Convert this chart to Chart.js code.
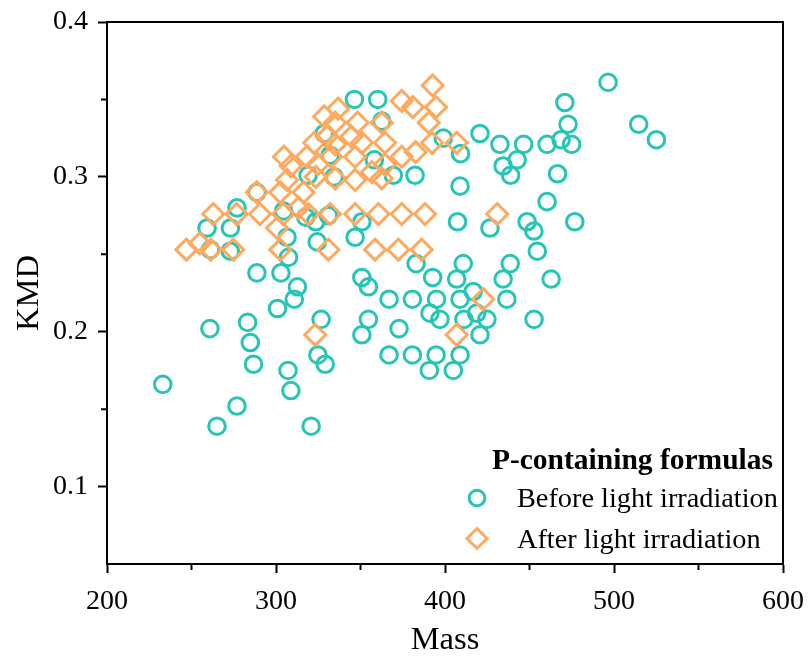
<!DOCTYPE html>
<html>
<head>
<meta charset="utf-8">
<script src="https://cdn.jsdelivr.net/npm/chart.js@4/dist/chart.umd.min.js"></script>
<style>
  html, body { margin: 0; padding: 0; background: #fff; }
  #wrap { width: 811px; height: 660px; }
</style>
</head>
<body>
<div id="wrap"><canvas id="chart_kmd" width="811" height="660"></canvas></div>
<script>
window.chartColors = {
    teal: 'rgb(38, 197, 180)',
    orange: 'rgb(255, 169, 94)',
    black: '#000'
};

const FONT = '"Liberation Serif", "Times New Roman", serif';

// P-containing formulas, before light irradiation
const beforeMass = [233.0, 265.1, 276.9, 260.9, 283.2, 284.8, 286.7, 308.8, 307.1, 310.8,
    312.7, 300.9, 288.7, 302.9, 320.8, 324.8, 329.1, 326.7, 259.2, 273.0,
    261.2, 273.0, 306.5, 307.4, 324.4, 288.7, 276.9, 304.5, 317.6, 331.0,
    350.8, 346.8, 323.5, 350.8, 354.7, 366.9, 380.7, 395.0, 408.9, 354.7,
    350.8, 372.8, 366.9, 380.7, 394.7, 391.1, 397.0, 390.7, 382.9, 392.7,
    406.9, 410.8, 407.4, 346.4, 360.2, 362.6, 358.2, 369.4, 382.3, 399.0,
    409.2, 408.9, 328.5, 332.0, 334.4, 319.0,
    496.5, 470.9, 514.6, 525.1, 472.8, 468.7, 474.9, 460.4, 420.7, 432.5,
    446.5, 434.4, 442.7, 438.8, 466.6, 460.4, 426.6, 448.6, 452.6, 476.8,
    454.6, 438.6, 434.4, 462.8, 416.7, 436.6, 418.7, 424.8, 452.7, 411.2,
    420.7, 408.9, 404.9];
const beforeKmd = [0.166, 0.139, 0.152, 0.202, 0.206, 0.193, 0.179, 0.162, 0.175, 0.221,
    0.229, 0.215, 0.238, 0.238, 0.139, 0.185, 0.179, 0.208, 0.267, 0.267,
    0.253, 0.252, 0.261, 0.248, 0.258, 0.290, 0.280, 0.278, 0.274, 0.275,
    0.271, 0.261, 0.271, 0.235, 0.229, 0.221, 0.221, 0.221, 0.221, 0.208,
    0.198, 0.202, 0.185, 0.185, 0.185, 0.212, 0.208, 0.175, 0.244, 0.235,
    0.234, 0.244, 0.271, 0.350, 0.350, 0.336, 0.311, 0.301, 0.301, 0.325,
    0.315, 0.294, 0.328, 0.314, 0.300, 0.301,
    0.361, 0.348, 0.334, 0.324, 0.334, 0.324, 0.321, 0.321, 0.328, 0.321,
    0.321, 0.307, 0.311, 0.301, 0.302, 0.284, 0.267, 0.271, 0.265, 0.271,
    0.252, 0.244, 0.234, 0.234, 0.226, 0.221, 0.212, 0.208, 0.208, 0.208,
    0.198, 0.185, 0.175];

// after light irradiation
const afterMass = [247.0, 254.9, 261.4, 274.7, 262.9, 276.7, 290.5, 304.3, 300.6, 302.5,
    288.7, 302.5, 316.3, 313.3, 319.2, 332.0, 346.8, 360.6, 374.4, 388.2,
    331.0, 358.6, 372.4, 386.2, 304.7, 308.7, 306.5, 318.2, 322.6, 324.7,
    323.5, 335.0, 346.8, 330.1, 335.0, 332.6, 328.5, 336.7, 335.0, 344.6,
    350.8, 348.3, 346.8, 356.7, 362.6, 364.5, 364.5, 362.6, 374.4, 381.0,
    392.7, 394.7, 390.4, 382.6, 374.4, 392.4, 406.9, 430.9, 422.6, 406.9,
    323.2];
const afterKmd = [0.253, 0.257, 0.253, 0.253, 0.276, 0.276, 0.276, 0.276, 0.267, 0.253,
    0.290, 0.290, 0.290, 0.280, 0.276, 0.276, 0.276, 0.276, 0.276, 0.276,
    0.253, 0.253, 0.253, 0.253, 0.313, 0.307, 0.298, 0.313, 0.322, 0.308,
    0.300, 0.299, 0.298, 0.326, 0.321, 0.313, 0.339, 0.344, 0.335, 0.326,
    0.322, 0.335, 0.313, 0.303, 0.299, 0.308, 0.322, 0.335, 0.349, 0.345,
    0.359, 0.345, 0.335, 0.316, 0.313, 0.322, 0.322, 0.276, 0.221, 0.198,
    0.198];

const xTicks = [200, 300, 400, 500, 600];
const xMinorTicks = [250, 350, 450, 550];
const yTicks = [0.1, 0.2, 0.3, 0.4];
const yMinorTicks = [0.15, 0.25, 0.35];

const legendTitle = 'P-containing formulas';
const legendLabels = ['Before light irradiation', 'After light irradiation'];

function toPoints(xs, ys) {
    return xs.map(function (x, i) {
        return {x: x, y: ys[i]};
    });
}

// frame on top/right, minor ticks and the legend box inside the plot
const extrasPlugin = {
    id: 'extras',
    afterDraw: function (chart) {
        const ctx = chart.ctx;
        const a = chart.chartArea;
        const xs = chart.scales.x, ys = chart.scales.y;
        ctx.save();
        ctx.strokeStyle = '#000';
        ctx.lineWidth = 2;
        ctx.beginPath();
        ctx.moveTo(a.left, a.top);
        ctx.lineTo(a.right, a.top);
        ctx.lineTo(a.right, a.bottom);
        ctx.stroke();

        ctx.beginPath();
        xMinorTicks.forEach(function (v) {
            const px = xs.getPixelForValue(v);
            ctx.moveTo(px, a.bottom);
            ctx.lineTo(px, a.bottom + 6);
        });
        yMinorTicks.forEach(function (v) {
            const py = ys.getPixelForValue(v);
            ctx.moveTo(a.left, py);
            ctx.lineTo(a.left - 6, py);
        });
        ctx.stroke();

        // legend
        ctx.fillStyle = '#000';
        ctx.textBaseline = 'alphabetic';
        ctx.textAlign = 'right';
        ctx.font = 'bold 29.5px ' + FONT;
        ctx.fillText(legendTitle, 773, 469);
        ctx.textAlign = 'left';
        ctx.font = '28.3px ' + FONT;
        ctx.fillText(legendLabels[0], 517, 507);
        ctx.fillText(legendLabels[1], 517, 548);

        ctx.lineWidth = 3;
        ctx.strokeStyle = window.chartColors.teal;
        ctx.beginPath();
        ctx.arc(477, 498, 7.8, 0, Math.PI * 2);
        ctx.stroke();
        ctx.strokeStyle = window.chartColors.orange;
        ctx.beginPath();
        ctx.moveTo(477, 528.5);
        ctx.lineTo(487, 538.5);
        ctx.lineTo(477, 548.5);
        ctx.lineTo(467, 538.5);
        ctx.closePath();
        ctx.stroke();
        ctx.restore();
    }
};

const ctx = document.getElementById('chart_kmd').getContext('2d');
const chart = new Chart(ctx, {
    type: 'scatter',
    data: {
        datasets: [
            {
                label: legendLabels[1],
                data: toPoints(afterMass, afterKmd),
                pointStyle: 'rectRot',
                pointRadius: 10.5,
                pointBorderWidth: 3,
                borderColor: window.chartColors.orange,
                backgroundColor: 'rgba(0,0,0,0)',
                order: 0
            },
            {
                label: legendLabels[0],
                data: toPoints(beforeMass, beforeKmd),
                pointStyle: 'circle',
                pointRadius: 8.3,
                pointBorderWidth: 3,
                borderColor: window.chartColors.teal,
                backgroundColor: 'rgba(0,0,0,0)',
                order: 1
            }
        ]
    },
    options: {
        responsive: false,
        animation: false,
        layout: {padding: {top: 22, right: 28, left: 0, bottom: 0}},
        plugins: {
            legend: {display: false},
            tooltip: {enabled: false}
        },
        scales: {
            x: {
                type: 'linear',
                min: 200,
                max: 600,
                afterBuildTicks: function (scale) {
                    scale.ticks = xTicks.map(function (v) { return {value: v}; });
                },
                afterFit: function (scale) {
                    scale.height = 96;
                    scale.paddingLeft = 0;
                    scale.paddingRight = 0;
                },
                grid: {drawOnChartArea: false, tickLength: 9, tickWidth: 2, tickColor: '#000'},
                border: {display: true, color: '#000', width: 2},
                ticks: {color: '#000', font: {family: FONT, size: 28}, padding: 12, maxRotation: 0},
                title: {display: true, text: 'Mass', color: '#000', font: {family: FONT, size: 32.5}, padding: {top: 0, bottom: 0}}
            },
            y: {
                type: 'linear',
                min: 0.05,
                max: 0.4,
                afterBuildTicks: function (scale) {
                    scale.ticks = yTicks.map(function (v) { return {value: v}; });
                },
                afterFit: function (scale) {
                    scale.width = 107;
                    scale.paddingTop = 0;
                    scale.paddingBottom = 0;
                },
                grid: {drawOnChartArea: false, tickLength: 9, tickWidth: 2, tickColor: '#000'},
                border: {display: true, color: '#000', width: 2},
                ticks: {
                    color: '#000',
                    font: {family: FONT, size: 28},
                    padding: 10,
                    callback: function (v) { return v.toFixed(1); }
                },
                title: {display: true, text: 'KMD', color: '#000', font: {family: FONT, size: 32.5}, padding: {top: 10, bottom: 0}}
            }
        }
    },
    plugins: [extrasPlugin]
});
</script>
</body>
</html>
